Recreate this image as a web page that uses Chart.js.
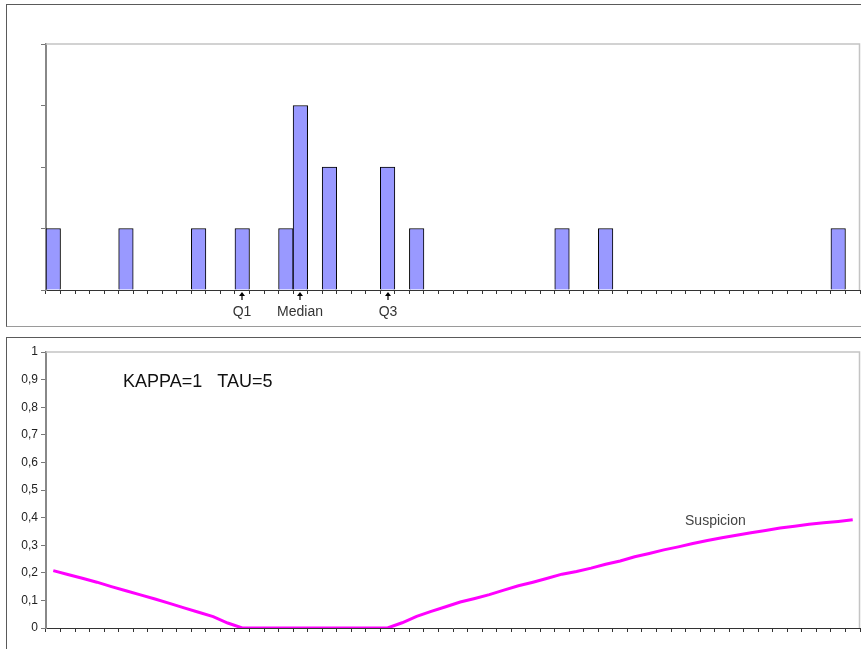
<!DOCTYPE html>
<html>
<head>
<meta charset="utf-8">
<script src="https://cdn.jsdelivr.net/npm/chart.js@4/dist/chart.umd.min.js"></script>
<style>
  body { margin: 0; background: #fff; width: 861px; height: 649px; overflow: hidden; position: relative; }
  .frame { position: absolute; border: 1px solid #5a5a5a; }
  #histFrame { left: 6px; top: 4px; width: 880px; height: 321px; border-bottom-color: #9a9a9a; }
  #suspFrame { left: 6px; top: 337px; width: 880px; height: 340px; }
  canvas { position: absolute; left: 0; }
  #hist { top: 0; }
  #susp { top: 330px; }
</style>
</head>
<body>
<div class="frame" id="histFrame"></div>
<div class="frame" id="suspFrame"></div>
<canvas id="hist" width="861" height="330"></canvas>
<canvas id="susp" width="861" height="319"></canvas>
<script>
// histogram bins along the x axis
const binCount = 56;
const bins = Array.from({ length: binCount }, (_, i) => i + 1);

// number of observations per bin
const counts = [
  1, 0, 0, 0, 0, 1, 0, 0, 0, 0,
  1, 0, 0, 1, 0, 0, 1, 3, 0, 2,
  0, 0, 0, 2, 0, 1, 0, 0, 0, 0,
  0, 0, 0, 0, 0, 1, 0, 0, 1, 0,
  0, 0, 0, 0, 0, 0, 0, 0, 0, 0,
  0, 0, 0, 0, 1, 0
];

// quartile markers under the histogram (bin index)
const markerLabels = ['Q1', 'Median', 'Q3'];
const markerBins = [13, 17, 23];

// suspicion value for each bin
const suspicion = [
  0.208, 0.194, 0.180, 0.166, 0.150, 0.135, 0.120, 0.105, 0.089, 0.073,
  0.057, 0.041, 0.018, 0, 0, 0, 0, 0, 0, 0,
  0, 0, 0, 0, 0.019, 0.042, 0.060, 0.077, 0.094, 0.107,
  0.121, 0.137, 0.153, 0.166, 0.180, 0.195, 0.205, 0.217, 0.231, 0.243,
  0.258, 0.270, 0.283, 0.294, 0.306, 0.317, 0.327, 0.336, 0.345, 0.353,
  0.362, 0.369, 0.376, 0.381, 0.386, 0.392
];
const yTicks = [0, 0.1, 0.2, 0.3, 0.4, 0.5, 0.6, 0.7, 0.8, 0.9, 1];

const FONT = "'Liberation Sans', Arial, sans-serif";

// light grey top/right edge of the plot area
const plotBorder = {
  id: 'plotBorder',
  beforeDatasetsDraw(chart) {
    const { ctx, chartArea: a } = chart;
    ctx.save();
    ctx.strokeStyle = '#c4c4c4';
    ctx.lineWidth = 1.5;
    ctx.beginPath();
    ctx.moveTo(a.left, a.top);
    ctx.lineTo(a.right - 0.5, a.top);
    ctx.lineTo(a.right - 0.5, a.bottom);
    ctx.stroke();
    ctx.restore();
  }
};

// arrows + names for the quartiles
const quartiles = {
  id: 'quartiles',
  afterDraw(chart) {
    const { ctx, chartArea: a } = chart;
    const x = chart.scales.x;
    ctx.save();
    markerBins.forEach((b, i) => {
      const px = Math.round(x.getPixelForValue(b));
      const y0 = a.bottom;
      ctx.fillStyle = '#000';
      ctx.beginPath();
      ctx.moveTo(px, y0 + 2);
      ctx.lineTo(px - 3, y0 + 6);
      ctx.lineTo(px + 3, y0 + 6);
      ctx.closePath();
      ctx.fill();
      ctx.fillRect(px - 0.6, y0 + 5, 1.2, 5);
      ctx.fillStyle = '#333';
      ctx.font = '14px ' + FONT;
      ctx.textAlign = 'center';
      ctx.textBaseline = 'middle';
      ctx.fillText(markerLabels[i], px, y0 + 22);
    });
    ctx.restore();
  }
};

// parameter caption and series name
const captions = {
  id: 'captions',
  afterDraw(chart) {
    const { ctx, chartArea: a } = chart;
    const x = chart.scales.x, y = chart.scales.y;
    ctx.save();
    ctx.fillStyle = '#111';
    ctx.font = '18px ' + FONT;
    ctx.textAlign = 'left';
    ctx.textBaseline = 'middle';
    ctx.fillText('KAPPA=1   TAU=5', a.left + 77, a.top + 30);
    ctx.fillStyle = '#444';
    ctx.font = '14px ' + FONT;
    ctx.textAlign = 'center';
    ctx.fillText('Suspicion', x.getPixelForValue(45) + 8, y.getPixelForValue(suspicion[45]) - 19);
    ctx.restore();
  }
};

new Chart(document.getElementById('hist'), {
  type: 'bar',
  data: {
    labels: bins,
    datasets: [{
      data: counts,
      backgroundColor: '#9999FF',
      borderColor: '#000',
      borderWidth: 1,
      categoryPercentage: 1,
      barPercentage: 1
    }]
  },
  options: {
    responsive: false,
    animation: false,
    layout: { padding: { top: 44, right: 1, left: 0, bottom: 0 } },
    plugins: { legend: { display: false }, tooltip: { enabled: false } },
    scales: {
      x: {
        grid: { drawOnChartArea: false, offset: true, tickLength: 4, color: '#333' },
        border: { color: '#333', width: 1 },
        ticks: { display: false },
        afterFit(s) { s.height = 40; }
      },
      y: {
        min: 0, max: 4,
        ticks: { display: false, stepSize: 1 },
        grid: { drawOnChartArea: false, tickLength: 5, color: '#777' },
        border: { color: '#888', width: 2 },
        afterFit(s) { s.width = 46; }
      }
    }
  },
  plugins: [plotBorder, quartiles]
});

new Chart(document.getElementById('susp'), {
  type: 'line',
  data: {
    labels: bins,
    datasets: [{
      data: suspicion,
      borderColor: '#FF00FF',
      borderWidth: 3,
      pointRadius: 0,
      tension: 0
    }]
  },
  options: {
    responsive: false,
    animation: false,
    layout: { padding: { top: 22, right: 1, left: 0, bottom: 0 } },
    plugins: { legend: { display: false }, tooltip: { enabled: false } },
    scales: {
      x: {
        offset: true,
        grid: { drawOnChartArea: false, offset: true, tickLength: 4, color: '#333' },
        border: { color: '#333', width: 1 },
        ticks: { display: false },
        afterFit(s) { s.height = 21; }
      },
      y: {
        min: 0, max: 1,
        afterBuildTicks(s) { s.ticks = yTicks.map(v => ({ value: v })); },
        ticks: {
          color: '#222',
          padding: 3,
          font: { family: FONT, size: 12 },
          callback: v => String(Math.round(v * 10) / 10).replace('.', ',')
        },
        grid: { drawOnChartArea: false, tickLength: 5, color: '#777' },
        border: { color: '#888', width: 2 },
        afterFit(s) { s.width = 46; }
      }
    }
  },
  plugins: [plotBorder, captions]
});
</script>
</body>
</html>
